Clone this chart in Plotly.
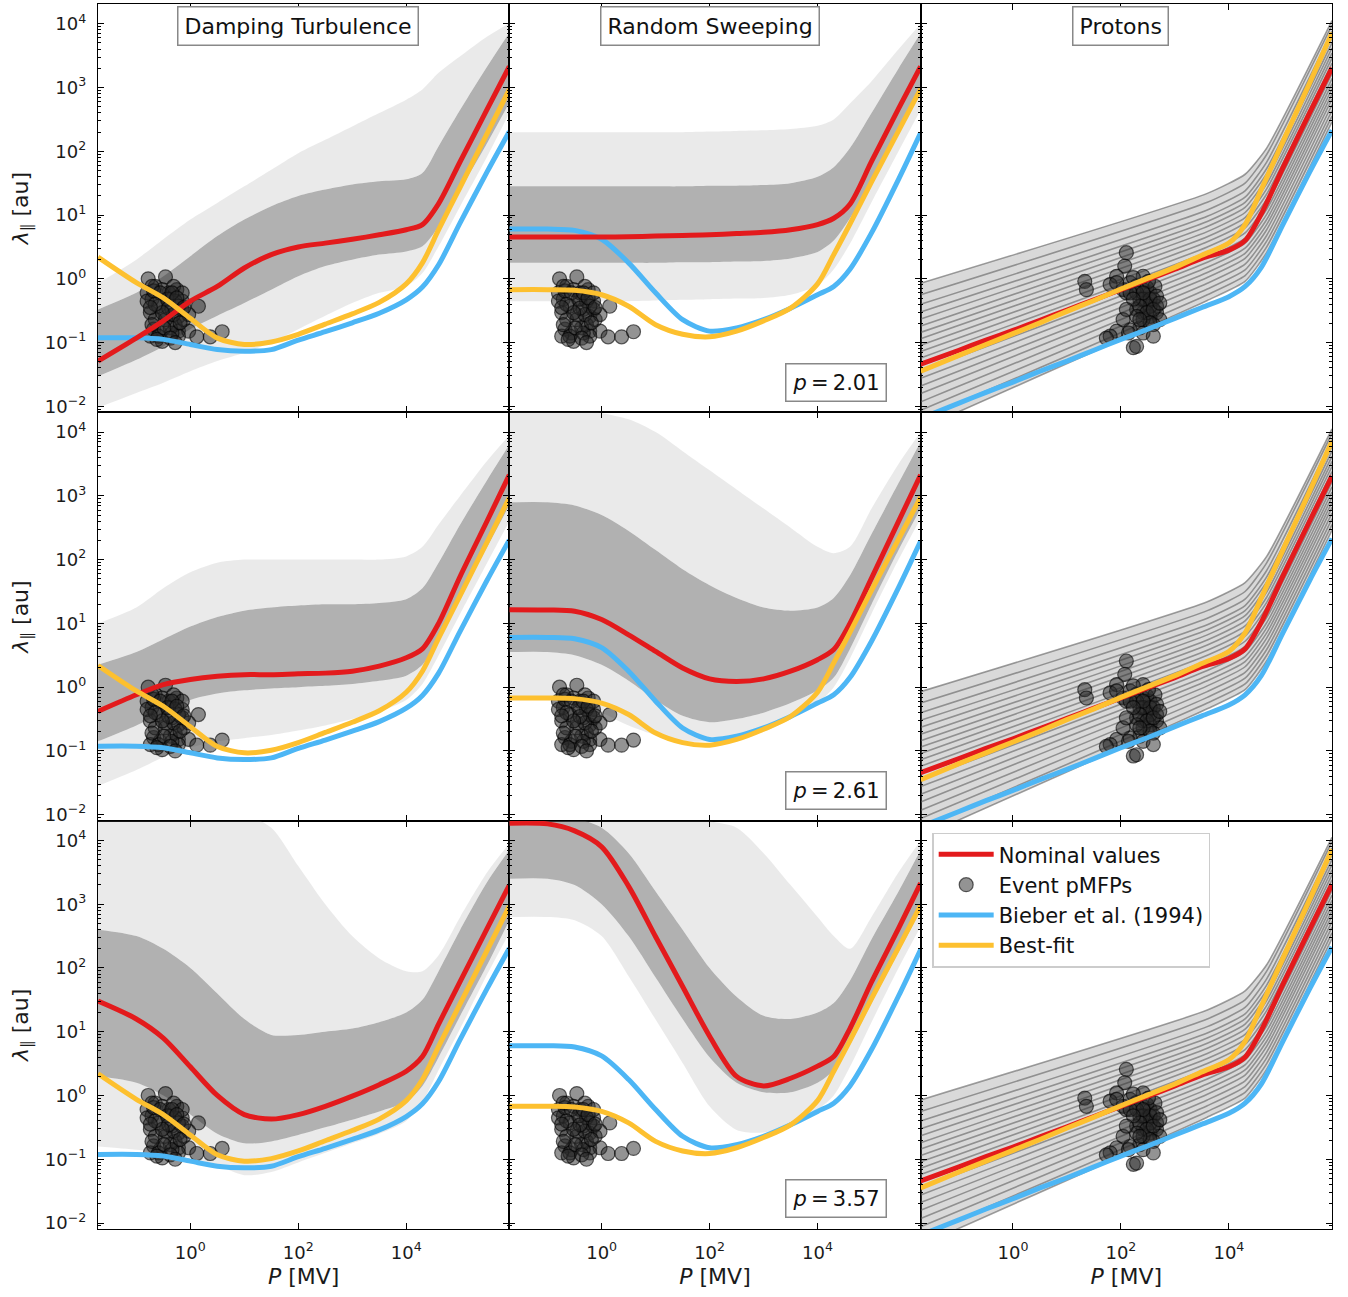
import plotly.graph_objects as go
from plotly.subplots import make_subplots

# ---------------- data (log10 values) ----------------
LOGP = [-1.71, -1.0, -0.5, 0.0, 0.5, 1.0, 1.5, 2.0, 2.5, 3.0, 3.5, 4.0, 4.3, 4.6, 5.0, 5.5, 5.91]

MODEL_TITLES = ["Damping Turbulence", "Random Sweeping", "Protons"]
P_LABELS = ["2.01", "2.61", "3.57"]

# Bieber et al. (1994)
BIEBER_C1 = [-0.925, -0.925, -0.95, -1.03, -1.11, -1.135, -1.11, -0.96, -0.83, -0.69, -0.54, -0.33, -0.13, 0.22, 0.88, 1.68, 2.31]
BIEBER_C2 = [0.78, 0.78, 0.76, 0.62, 0.25, -0.22, -0.64, -0.82, -0.77, -0.64, -0.46, -0.25, -0.12, 0.15, 0.72, 1.56, 2.29]
BIEBER_C3 = [-2.19, -1.95, -1.78, -1.62, -1.45, -1.29, -1.12, -0.95, -0.79, -0.62, -0.45, -0.28, -0.12, 0.18, 0.85, 1.68, 2.33]

# Best-fit
BEST_C1 = [0.34, -0.06, -0.30, -0.62, -0.93, -1.03, -0.99, -0.87, -0.71, -0.55, -0.37, -0.08, 0.25, 0.77, 1.44, 2.28, 2.97]
BEST_C2 = [-0.17, -0.17, -0.18, -0.25, -0.43, -0.72, -0.87, -0.91, -0.82, -0.66, -0.46, -0.08, 0.38, 0.86, 1.52, 2.32, 2.98]
BEST_C3 = [-1.45, -1.20, -1.03, -0.86, -0.69, -0.51, -0.34, -0.16, 0.01, 0.18, 0.37, 0.56, 0.85, 1.40, 2.15, 3.08, 3.86]

# Nominal values
NOM_R1C1 = [-1.29, -0.93, -0.66, -0.35, -0.12, 0.17, 0.38, 0.50, 0.56, 0.62, 0.69, 0.77, 0.85, 1.18, 1.84, 2.66, 3.33]
NOM_R2C1 = [-0.38, -0.12, 0.04, 0.12, 0.17, 0.196, 0.196, 0.21, 0.22, 0.25, 0.33, 0.46, 0.60, 1.00, 1.74, 2.61, 3.33]
NOM_R3C1 = [1.48, 1.20, 0.90, 0.45, 0.00, -0.30, -0.37, -0.30, -0.17, -0.01, 0.17, 0.38, 0.61, 1.12, 1.79, 2.62, 3.30]
NOM_R1C2 = [0.655, 0.655, 0.655, 0.655, 0.66, 0.67, 0.68, 0.69, 0.71, 0.73, 0.77, 0.85, 0.95, 1.17, 1.84, 2.67, 3.33]
NOM_R2C2 = [1.215, 1.21, 1.19, 1.06, 0.82, 0.56, 0.30, 0.13, 0.09, 0.13, 0.25, 0.43, 0.59, 1.00, 1.71, 2.60, 3.33]
NOM_R3C2 = [4.27, 4.26, 4.15, 3.90, 3.28, 2.49, 1.71, 0.93, 0.30, 0.15, 0.27, 0.46, 0.61, 1.05, 1.78, 2.62, 3.33]
NOM_C3 = [-1.34, -1.12, -0.96, -0.81, -0.65, -0.49, -0.33, -0.17, -0.01, 0.15, 0.32, 0.45, 0.60, 1.02, 1.74, 2.61, 3.31]

# Ensemble envelopes (outer low, inner low, inner high, outer high)
ENS_R1C1_LO = [-2.02, -1.79, -1.63, -1.45, -1.29, -1.16, -1.0, -0.79, -0.58, -0.38, -0.22, -0.115, 0.09, 0.51, 1.14, 1.92, 2.60]
ENS_R1C1_LOIN = [-1.53, -1.27, -1.06, -0.79, -0.58, -0.38, -0.17, 0.04, 0.20, 0.30, 0.38, 0.43, 0.51, 0.82, 1.40, 2.13, 2.76]
ENS_R1C1_HIIN = [-0.48, -0.22, 0.04, 0.355, 0.67, 0.93, 1.14, 1.30, 1.40, 1.48, 1.53, 1.56, 1.66, 2.08, 2.65, 3.33, 3.86]
ENS_R1C1_HI = [-0.07, 0.30, 0.62, 0.93, 1.19, 1.45, 1.71, 1.97, 2.18, 2.39, 2.60, 2.81, 2.97, 3.23, 3.49, 3.80, 4.01]

ENS_R2C1_LO = [-1.55, -1.3, -1.1, -0.95, -0.85, -0.8, -0.75, -0.68, -0.6, -0.5, -0.38, -0.2, 0.05, 0.5, 1.15, 1.95, 2.6]
ENS_R2C1_LOIN = [-0.85, -0.6, -0.4, -0.2, -0.1, -0.05, -0.02, 0.0, 0.02, 0.05, 0.1, 0.18, 0.35, 0.75, 1.4, 2.2, 2.85]
ENS_R2C1_HIIN = [0.35, 0.55, 0.75, 0.95, 1.1, 1.2, 1.25, 1.28, 1.3, 1.3, 1.32, 1.38, 1.55, 1.95, 2.55, 3.25, 3.80]
ENS_R2C1_HI = [1.0, 1.25, 1.55, 1.80, 1.95, 2.0, 2.0, 2.0, 2.0, 2.0, 2.0, 2.05, 2.2, 2.55, 3.0, 3.55, 3.95]

ENS_R3C1_LO = [-0.8, -0.85, -0.9, -0.98, -1.1, -1.25, -1.2, -1.05, -0.9, -0.75, -0.6, -0.4, -0.1, 0.4, 1.05, 1.9, 2.55]
ENS_R3C1_LOIN = [0.3, 0.2, 0.0, -0.3, -0.6, -0.75, -0.72, -0.62, -0.5, -0.38, -0.25, -0.1, 0.15, 0.6, 1.25, 2.05, 2.75]
ENS_R3C1_HIIN = [2.6, 2.5, 2.3, 2.0, 1.6, 1.2, 0.95, 0.95, 1.0, 1.05, 1.15, 1.3, 1.5, 1.95, 2.6, 3.35, 3.85]
ENS_R3C1_HI = [4.4, 4.4, 4.4, 4.4, 4.4, 4.4, 4.2, 3.6, 3.0, 2.5, 2.15, 1.95, 1.95, 2.2, 2.8, 3.5, 3.95]

ENS_R1C2_LO = [-0.35, -0.35, -0.35, -0.35, -0.35, -0.34, -0.33, -0.32, -0.31, -0.30, -0.25, -0.1, 0.15, 0.55, 1.2, 2.0, 2.65]
ENS_R1C2_LOIN = [0.25, 0.25, 0.25, 0.25, 0.25, 0.25, 0.26, 0.26, 0.27, 0.28, 0.32, 0.42, 0.6, 0.95, 1.5, 2.3, 2.9]
ENS_R1C2_HIIN = [1.45, 1.45, 1.45, 1.45, 1.45, 1.45, 1.45, 1.46, 1.46, 1.47, 1.5, 1.6, 1.75, 2.05, 2.6, 3.3, 3.85]
ENS_R1C2_HI = [2.3, 2.3, 2.3, 2.3, 2.3, 2.3, 2.3, 2.31, 2.32, 2.33, 2.35, 2.4, 2.5, 2.75, 3.1, 3.6, 4.0]

ENS_R2C2_LO = [-0.2, -0.2, -0.25, -0.4, -0.6, -0.75, -0.85, -0.85, -0.8, -0.7, -0.5, -0.25, 0.0, 0.45, 1.15, 2.0, 2.65]
ENS_R2C2_LOIN = [0.55, 0.55, 0.5, 0.35, 0.1, -0.2, -0.45, -0.55, -0.5, -0.4, -0.25, -0.05, 0.15, 0.6, 1.3, 2.15, 2.8]
ENS_R2C2_HIIN = [2.9, 2.9, 2.85, 2.7, 2.45, 2.15, 1.85, 1.6, 1.4, 1.25, 1.2, 1.25, 1.4, 1.75, 2.4, 3.2, 3.85]
ENS_R2C2_HI = [4.4, 4.4, 4.4, 4.3, 4.2, 4.0, 3.7, 3.4, 3.1, 2.8, 2.5, 2.2, 2.1, 2.2, 2.8, 3.5, 4.0]

ENS_R3C2_LO = [2.8, 2.8, 2.75, 2.5, 1.87, 1.19, 0.51, -0.17, -0.54, -0.58, -0.45, -0.22, 0.0, 0.45, 1.15, 2.0, 2.65]
ENS_R3C2_LOIN = [3.4, 3.4, 3.3, 3.0, 2.5, 1.85, 1.2, 0.6, 0.2, 0.05, 0.05, 0.2, 0.4, 0.8, 1.45, 2.25, 2.9]
ENS_R3C2_HIIN = [4.4, 4.4, 4.35, 4.2, 3.8, 3.2, 2.6, 2.0, 1.55, 1.25, 1.2, 1.3, 1.45, 1.8, 2.45, 3.2, 3.85]
ENS_R3C2_HI = [4.4, 4.4, 4.4, 4.4, 4.4, 4.4, 4.4, 4.3, 4.2, 3.8, 3.3, 2.8, 2.5, 2.3, 2.8, 3.5, 4.0]

# Proton ensemble lines: log10(lambda) at these log10(P) knots
PROTON_LINE_LOGP = [-1.71, 3.6, 4.3, 4.7, 5.91]
PROTON_LINE_01 = [-0.07, 1.34, 1.64, 2.05, 4.05]
PROTON_LINE_02 = [-0.25, 1.20, 1.50, 1.95, 3.98]
PROTON_LINE_03 = [-0.40, 1.08, 1.38, 1.83, 3.88]
PROTON_LINE_04 = [-0.52, 0.98, 1.28, 1.73, 3.78]
PROTON_LINE_05 = [-0.63, 0.90, 1.20, 1.65, 3.70]
PROTON_LINE_06 = [-0.74, 0.82, 1.12, 1.57, 3.62]
PROTON_LINE_07 = [-0.84, 0.74, 1.04, 1.49, 3.54]
PROTON_LINE_08 = [-0.94, 0.66, 0.96, 1.41, 3.46]
PROTON_LINE_09 = [-1.04, 0.58, 0.88, 1.33, 3.38]
PROTON_LINE_10 = [-1.14, 0.50, 0.80, 1.25, 3.30]
PROTON_LINE_11 = [-1.24, 0.42, 0.72, 1.17, 3.22]
PROTON_LINE_12 = [-1.34, 0.34, 0.64, 1.09, 3.14]
PROTON_LINE_13 = [-1.45, 0.26, 0.56, 1.01, 3.06]
PROTON_LINE_14 = [-1.56, 0.18, 0.48, 0.93, 2.98]
PROTON_LINE_15 = [-1.68, 0.10, 0.40, 0.85, 2.90]
PROTON_LINE_16 = [-1.80, 0.02, 0.32, 0.77, 2.82]
PROTON_LINE_17 = [-1.93, -0.07, 0.23, 0.68, 2.73]
PROTON_LINE_18 = [-2.06, -0.16, 0.14, 0.59, 2.64]
PROTON_LINE_19 = [-2.20, -0.25, 0.05, 0.50, 2.55]
PROTON_LINE_20 = [-2.35, -0.34, -0.04, 0.41, 2.46]

# Event pMFPs (electrons: columns 1-2, protons: column 3)
ELEC_LOGP = [-0.78, -0.46, -0.65, -0.80, -0.25, -0.71, -0.40, -0.15, 0.15, -0.74, -0.46, -0.22, -0.28, -0.68,
             -0.56, -0.74, -0.52, -0.22, -0.03, 0.12, 0.37, 0.59, -0.40, -0.59, -0.34, -0.15, -0.65, -0.22,
             -0.37, -0.52, -0.31, -0.80, -0.12, -0.46, -0.59, -0.15, -0.34, -0.03, -0.68, -0.28,
             -0.71, -0.56, -0.43, -0.34, -0.22, -0.31, -0.40, -0.52, -0.65, -0.74, -0.25, -0.12, -0.19, -0.49,
             -0.62, -0.37, -0.71, -0.28]
ELEC_LOGLAM = [0.0, 0.03, -0.12, -0.22, -0.17, -0.32, -0.32, -0.35, -0.43, -0.53, -0.56, -0.59, -0.72, -0.79,
               -0.85, -0.90, -0.98, -0.82, -0.82, -0.91, -0.91, -0.83, -0.22, -0.43, -0.48, -0.48, -0.64, -0.90,
               -0.77, -0.17, -0.12, -0.35, -0.64, -0.64, -0.90, -0.22, -0.85, -0.56, -0.19, -0.35,
               -0.12, -0.22, -0.32, -0.22, -0.43, -0.56, -0.46, -0.53, -0.40, -0.45, -0.30, -0.45, -0.69, -0.77,
               -0.95, -0.93, -0.72, -1.0]
PROT_LOGP = [1.33, 1.36, 2.10, 2.07, 1.92, 1.80, 2.04, 2.17, 2.29, 2.41, 2.54, 2.35, 2.48, 2.60, 2.66, 2.41,
             2.54, 2.66, 2.72, 2.60, 2.35, 2.41, 2.23, 2.29, 1.92, 1.80, 1.73, 2.17, 2.48, 2.63, 2.41, 2.51,
             2.23, 2.10, 2.54, 2.29, 2.41, 2.14, 2.04, 2.29,
             2.17, 2.41, 2.54, 2.35, 2.48, 2.29, 2.60, 2.41, 2.66, 2.23, 2.54, 2.35, 2.72, 2.10, 2.60, 1.92]
PROT_LOGLAM = [-0.04, -0.17, 0.41, 0.20, 0.04, -0.09, -0.17, -0.06, -0.11, -0.17, -0.22, -0.32, -0.38, -0.32,
               -0.43, -0.53, -0.59, -0.53, -0.64, -0.72, -0.77, -0.85, -1.08, -1.06, -0.82, -0.90, -0.93, -0.80,
               -0.14, -0.12, 0.04, -0.04, 0.02, -0.22, -0.43, -0.48, -0.64, -0.85, -0.64, -0.22,
               -0.22, -0.32, -0.32, -0.43, -0.53, -0.59, -0.48, -0.22, -0.27, -0.32, -0.69, -0.64, -0.38, -0.48,
               -0.90, -0.06]

# ---------------- tables built from the arrays ----------------
NOMINAL = {(1, 1): NOM_R1C1, (2, 1): NOM_R2C1, (3, 1): NOM_R3C1,
           (1, 2): NOM_R1C2, (2, 2): NOM_R2C2, (3, 2): NOM_R3C2,
           (1, 3): NOM_C3, (2, 3): NOM_C3, (3, 3): NOM_C3}
BIEBER = {1: BIEBER_C1, 2: BIEBER_C2, 3: BIEBER_C3}
BEST = {1: BEST_C1, 2: BEST_C2, 3: BEST_C3}
ENSEMBLE = {
    (1, 1): (ENS_R1C1_LO, ENS_R1C1_LOIN, ENS_R1C1_HIIN, ENS_R1C1_HI),
    (2, 1): (ENS_R2C1_LO, ENS_R2C1_LOIN, ENS_R2C1_HIIN, ENS_R2C1_HI),
    (3, 1): (ENS_R3C1_LO, ENS_R3C1_LOIN, ENS_R3C1_HIIN, ENS_R3C1_HI),
    (1, 2): (ENS_R1C2_LO, ENS_R1C2_LOIN, ENS_R1C2_HIIN, ENS_R1C2_HI),
    (2, 2): (ENS_R2C2_LO, ENS_R2C2_LOIN, ENS_R2C2_HIIN, ENS_R2C2_HI),
    (3, 2): (ENS_R3C2_LO, ENS_R3C2_LOIN, ENS_R3C2_HIIN, ENS_R3C2_HI),
}
PROTON_LINES = [PROTON_LINE_01, PROTON_LINE_02, PROTON_LINE_03, PROTON_LINE_04, PROTON_LINE_05,
                PROTON_LINE_06, PROTON_LINE_07, PROTON_LINE_08, PROTON_LINE_09, PROTON_LINE_10,
                PROTON_LINE_11, PROTON_LINE_12, PROTON_LINE_13, PROTON_LINE_14, PROTON_LINE_15,
                PROTON_LINE_16, PROTON_LINE_17, PROTON_LINE_18, PROTON_LINE_19, PROTON_LINE_20]

RED = "#E31A1C"
BLUE = "#4DB6F5"
YELLOW = "#FDC02F"
FONT = "DejaVu Sans"
OUTER_FILL = "rgba(130,130,130,0.17)"
INNER_FILL = "rgba(100,100,100,0.50)"
SPL = dict(shape="spline", smoothing=0.8)


def ex(v):
    return [10 ** a for a in v]


fig = make_subplots(rows=3, cols=3, shared_xaxes=True, shared_yaxes=True,
                    horizontal_spacing=0, vertical_spacing=0)

PX = ex(LOGP)
for r in range(1, 4):
    for c in range(1, 4):
        last = (r == 3 and c == 3)
        # grey ensemble
        if c < 3:
            lo, loin, hiin, hi = ENSEMBLE[(r, c)]
            fig.add_trace(go.Scatter(x=PX, y=ex(lo), mode="lines", line=dict(width=0, **SPL),
                                     showlegend=False, hoverinfo="skip"), row=r, col=c)
            fig.add_trace(go.Scatter(x=PX, y=ex(loin), mode="lines", line=dict(width=0, **SPL),
                                     fill="tonexty", fillcolor=OUTER_FILL, showlegend=False, hoverinfo="skip"), row=r, col=c)
            fig.add_trace(go.Scatter(x=PX, y=ex(hiin), mode="lines", line=dict(width=0, **SPL),
                                     fill="tonexty", fillcolor=INNER_FILL, showlegend=False, hoverinfo="skip"), row=r, col=c)
            fig.add_trace(go.Scatter(x=PX, y=ex(hi), mode="lines", line=dict(width=0, **SPL),
                                     fill="tonexty", fillcolor=OUTER_FILL, showlegend=False, hoverinfo="skip"), row=r, col=c)
        else:
            LX = ex(PROTON_LINE_LOGP)
            fig.add_trace(go.Scatter(x=LX, y=ex(PROTON_LINES[-1]), mode="lines",
                                     line=dict(width=0, shape="spline", smoothing=0.5),
                                     showlegend=False, hoverinfo="skip"), row=r, col=c)
            fig.add_trace(go.Scatter(x=LX, y=ex(PROTON_LINES[0]), mode="lines",
                                     line=dict(width=0, shape="spline", smoothing=0.5),
                                     fill="tonexty", fillcolor="rgba(140,140,140,0.33)",
                                     showlegend=False, hoverinfo="skip"), row=r, col=c)
            for ln in PROTON_LINES:
                fig.add_trace(go.Scatter(x=LX, y=ex(ln), mode="lines",
                                         line=dict(width=1.6, color="rgba(95,95,95,0.6)",
                                                   shape="spline", smoothing=0.5),
                                         showlegend=False, hoverinfo="skip"), row=r, col=c)
        # event pMFPs
        sx, sy = (ELEC_LOGP, ELEC_LOGLAM) if c < 3 else (PROT_LOGP, PROT_LOGLAM)
        fig.add_trace(go.Scatter(x=ex(sx), y=ex(sy), mode="markers", name="Event pMFPs",
                                 marker=dict(size=14, color="rgba(40,40,40,0.5)",
                                             line=dict(color="rgba(0,0,0,0.6)", width=1.2)),
                                 showlegend=last, legendrank=2), row=r, col=c)
        # Bieber
        fig.add_trace(go.Scatter(x=PX, y=ex(BIEBER[c]), mode="lines", name="Bieber et al. (1994)",
                                 line=dict(color=BLUE, width=5, **SPL),
                                 showlegend=last, legendrank=3), row=r, col=c)
        # Nominal
        fig.add_trace(go.Scatter(x=PX, y=ex(NOMINAL[(r, c)]), mode="lines", name="Nominal values",
                                 line=dict(color=RED, width=5, **SPL),
                                 showlegend=last, legendrank=1), row=r, col=c)
        # Best fit
        fig.add_trace(go.Scatter(x=PX, y=ex(BEST[c]), mode="lines", name="Best-fit",
                                 line=dict(color=YELLOW, width=5, **SPL),
                                 showlegend=last, legendrank=4), row=r, col=c)

# ---------------- axes ----------------
MINOR_Y = [k * 10 ** d for d in range(-3, 5) for k in range(2, 10)]
fig.update_xaxes(type="log", range=[-1.71, 5.91], showline=True, linewidth=1.3, linecolor="black",
                 mirror="allticks", ticks="inside", ticklen=6, tickwidth=1.2, tickcolor="black",
                 tickvals=[1, 100, 10000],
                 ticktext=["10<sup>0</sup>", "10<sup>2</sup>", "10<sup>4</sup>"],
                 showgrid=False, zeroline=False, tickfont=dict(size=18, family=FONT, color="#1a1a1a"),
                 ticklabelstandoff=7, automargin=False)
fig.update_yaxes(type="log", range=[-2.094, 4.31], showline=True, linewidth=1.3, linecolor="black",
                 mirror="allticks", ticks="inside", ticklen=6, tickwidth=1.2, tickcolor="black",
                 tickvals=[1e-2, 1e-1, 1, 10, 100, 1000, 10000],
                 ticktext=["10<sup>−2</sup>", "10<sup>−1</sup>", "10<sup>0</sup>", "10<sup>1</sup>",
                           "10<sup>2</sup>", "10<sup>3</sup>", "10<sup>4</sup>"],
                 minor=dict(tickvals=MINOR_Y, ticks="inside", ticklen=2.5, tickwidth=0.7, tickcolor="black"),
                 showgrid=False, zeroline=False, tickfont=dict(size=18, family=FONT, color="#1a1a1a"),
                 ticklabelstandoff=7, automargin=False)
for c in range(1, 4):
    fig.update_xaxes(title_text="<i>P</i> [MV]", title_font=dict(size=22, family=FONT, color="#1a1a1a"),
                     title_standoff=6, row=3, col=c)
for r in range(1, 4):
    fig.update_yaxes(title_text="<i>λ</i><sub>∥</sub> [au]", title_font=dict(size=22, family=FONT, color="#1a1a1a"),
                     title_standoff=10, row=r, col=1)

# ---------------- annotations ----------------
for c in range(1, 4):
    ref = "" if c == 1 else str(c)
    fig.add_annotation(text=MODEL_TITLES[c - 1], xref=f"x{ref} domain", yref=f"y{ref} domain",
                       x=0.487, y=0.946, xanchor="center", yanchor="middle", showarrow=False,
                       font=dict(size=22, family=FONT, color="#111"),
                       bordercolor="#888", borderwidth=1.5, borderpad=6, bgcolor="white")
for r in range(1, 4):
    idx = (r - 1) * 3 + 2
    fig.add_annotation(text=f"<i>p</i>\u2009=\u2009{P_LABELS[r - 1]}", xref=f"x{idx} domain", yref=f"y{idx} domain",
                       x=0.795, y=0.074, xanchor="center", yanchor="middle", showarrow=False,
                       font=dict(size=21, family=FONT, color="#111"),
                       bordercolor="#888", borderwidth=1.5, borderpad=6, bgcolor="white")

fig.update_layout(
    width=1348, height=1297,
    margin=dict(l=98, r=16, t=4, b=68),
    paper_bgcolor="white", plot_bgcolor="white",
    font=dict(family=FONT, color="#1a1a1a"),
    legend=dict(x=0.676, y=0.3235, xanchor="left", yanchor="top",
                bgcolor="rgba(255,255,255,0.85)", bordercolor="#cccccc", borderwidth=1.5,
                font=dict(size=21, family=FONT, color="#111"), traceorder="normal",
                tracegroupgap=0, itemwidth=55),
)

fig.write_html("out.html", config={"displayModeBar": False},
               post_script="document.body.style.margin='0px';")
